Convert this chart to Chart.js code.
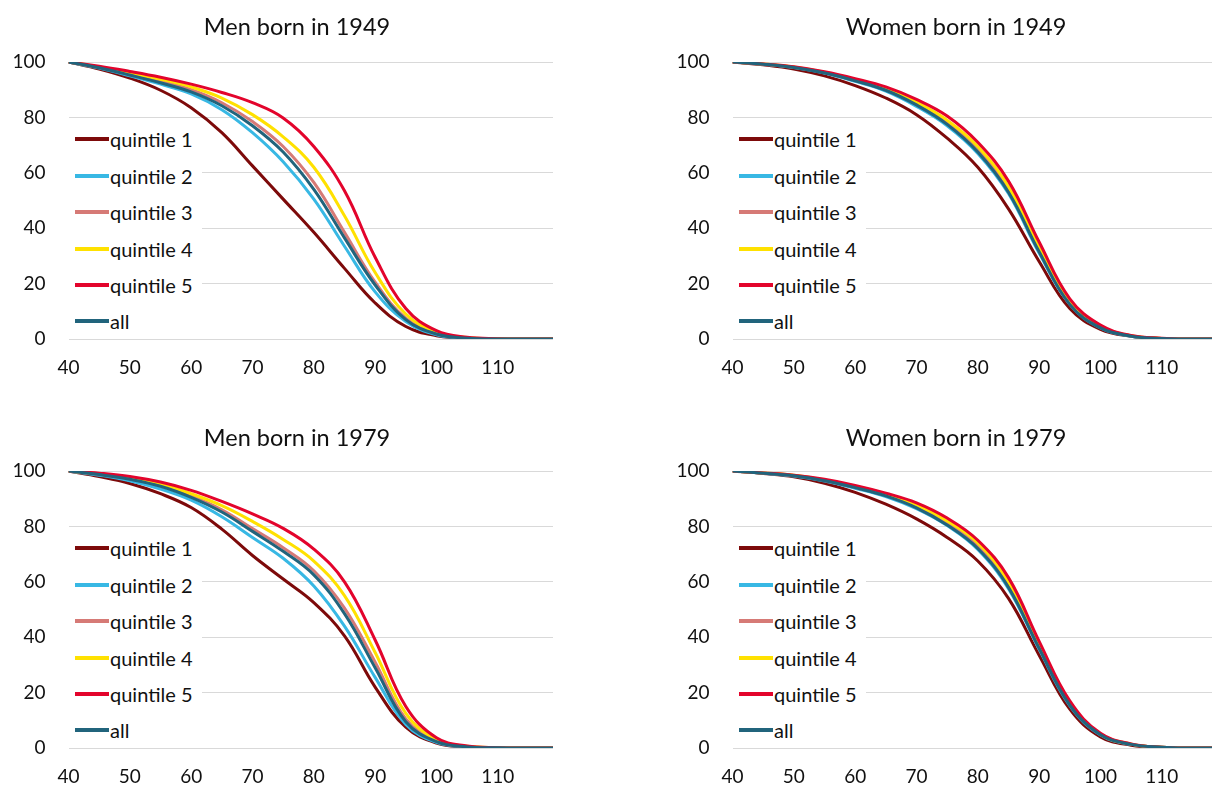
<!DOCTYPE html>
<html>
<head>
<meta charset="utf-8">
<title>Survival by income quintile</title>
<script src="https://cdn.jsdelivr.net/npm/chart.js@4.4.1/dist/chart.umd.min.js"></script>
<style>
    html, body {
        margin: 0;
        padding: 0;
        width: 1212px;
        height: 790px;
        overflow: hidden;
        background: #fff;
    }
    body {
        position: relative;
        font-family: Lato, 'Noto Sans', sans-serif;
        color: #111;
    }
    .panel {
        position: absolute;
        height: 400px;
    }
    .panel canvas {
        position: absolute;
        left: 0;
        top: 0;
    }
    .title {
        position: absolute;
        font-size: 23.5px;
        line-height: 24px;
        white-space: nowrap;
        transform: translateX(-50%);
    }
    .legend {
        position: absolute;
        width: 133px;
        height: 216px;
        background: #fff;
    }
    .legend .item {
        position: absolute;
        left: 6px;
        height: 24px;
        display: flex;
        align-items: center;
        font-size: 20px;
        white-space: nowrap;
    }
    .legend .swatch {
        width: 34px;
        height: 4px;
        margin-right: 1px;
    }
</style>
</head>
<body>

<script>
// ages (every 5 years, last point at 119)
const ages = [40, 45, 50, 55, 60, 65, 70, 75, 80, 85, 90, 95, 100, 105, 110, 115, 119];

const seriesNames = ['quintile 1', 'quintile 2', 'quintile 3', 'quintile 4', 'quintile 5', 'all'];
const seriesColors = ['#7d0a0a', '#38b8e4', '#d67a76', '#ffe100', '#e3042c', '#21647c'];

const yTicks = [0, 20, 40, 60, 80, 100];
const xTicks = [40, 50, 60, 70, 80, 90, 100, 110];

// Men born in 1949
const men1949Q1 = [100, 97.5, 94.2, 89.8, 83.5, 74.5, 62.5, 50.5, 38.5, 25.5, 13, 4.5, 1.2, 0.2, 0, 0, 0];
const men1949Q2 = [100, 97.8, 95, 92, 88.5, 82.8, 74.5, 64, 50.5, 33.5, 17, 6.3, 1.5, 0.3, 0, 0, 0];
const men1949Q3 = [100, 98, 95.6, 93, 90, 85.3, 78.5, 69.5, 56.5, 38.5, 20.5, 7.5, 2, 0.4, 0.1, 0, 0];
const men1949Q4 = [100, 98.2, 96, 93.8, 91, 87, 81, 73, 62, 44.5, 24, 9, 2.5, 0.5, 0.1, 0, 0];
const men1949Q5 = [100, 98.5, 96.6, 94.5, 92, 89, 85.3, 79.8, 69.5, 53.5, 29.5, 11, 3, 0.6, 0.1, 0, 0];
const men1949All = [100, 97.9, 95.3, 92.5, 89.2, 84.2, 77, 67.5, 54, 36.5, 19.5, 7, 1.8, 0.3, 0, 0, 0];

// Women born in 1949
const women1949Q1 = [100, 99, 97.5, 95, 91.5, 87, 81, 72.5, 62, 47, 28, 11, 3.5, 1, 0.2, 0, 0];
const women1949Q2 = [100, 99.2, 98, 96, 93, 89.5, 84, 77, 67, 52.5, 31, 12.5, 4, 1, 0.2, 0, 0];
const women1949Q3 = [100, 99.2, 98.1, 96.2, 93.5, 90.2, 85, 78.5, 68.5, 54, 32, 13, 4.3, 1.1, 0.2, 0, 0];
const women1949Q4 = [100, 99.3, 98.2, 96.3, 93.7, 90.5, 85.5, 79, 69.5, 55, 33, 13.5, 4.5, 1.2, 0.2, 0, 0];
const women1949Q5 = [100, 99.3, 98.3, 96.5, 94, 91, 86.5, 80.5, 71, 57, 35, 14.5, 5, 1.3, 0.3, 0, 0];
const women1949All = [100, 99.2, 98, 96, 93.2, 89.8, 84.5, 77.5, 67.5, 53, 31.5, 12.5, 4, 1, 0.2, 0, 0];

// Men born in 1979
const men1979Q1 = [100, 98, 95.5, 91.8, 86.8, 79, 69.5, 61, 52.5, 40.5, 22, 7.5, 1.8, 0.3, 0, 0, 0];
const men1979Q2 = [100, 98.5, 96.5, 93.5, 89.5, 83.5, 76, 68.5, 58.5, 44, 25.5, 8.5, 2, 0.4, 0, 0, 0];
const men1979Q3 = [100, 98.8, 97.2, 94.8, 91, 86, 79.2, 72.3, 64, 50.5, 31, 10.5, 2.5, 0.5, 0.1, 0, 0];
const men1979Q4 = [100, 99, 97.5, 95.3, 91.8, 87.5, 81.8, 75.3, 67.5, 55, 34.5, 12.5, 3, 0.6, 0.1, 0, 0];
const men1979Q5 = [100, 99.2, 98, 96, 93, 89, 84.5, 79.3, 71.8, 60, 39, 15, 3.7, 0.7, 0.1, 0, 0];
const men1979All = [100, 98.7, 97, 94.5, 90.5, 85.2, 78.2, 71, 62.5, 48.5, 29, 9.5, 2.3, 0.4, 0.1, 0, 0];

// Women born in 1979
const women1979Q1 = [100, 99.1, 97.9, 95.6, 92.3, 88, 82.7, 76, 67.5, 54, 33.5, 14, 4, 1, 0.2, 0, 0];
const women1979Q2 = [100, 99.2, 98.2, 96.4, 93.8, 90.8, 86.4, 80.3, 71.7, 57.5, 35.7, 15.3, 4.7, 1.3, 0.3, 0, 0];
const women1979Q3 = [100, 99.2, 98.4, 96.6, 94.2, 91.3, 87.2, 81.2, 73, 59, 37, 16, 5, 1.4, 0.3, 0, 0];
const women1979Q4 = [100, 99.3, 98.5, 96.8, 94.5, 91.7, 87.8, 82, 74, 60, 37.5, 16.3, 5, 1.4, 0.3, 0, 0];
const women1979Q5 = [100, 99.3, 98.5, 97, 94.8, 92, 88.5, 83, 75, 61.5, 38.5, 17, 5.3, 1.5, 0.3, 0, 0];
const women1979All = [100, 99.2, 98.3, 96.5, 94, 91, 86.7, 80.5, 72, 58, 36, 15.5, 4.8, 1.3, 0.3, 0, 0];

const panels = [
    { title: 'Men born in 1949', series: [men1949Q1, men1949Q2, men1949Q3, men1949Q4, men1949Q5, men1949All],
      left: 0, top: 0, width: 600, titleX: 297, titleY: 26 },
    { title: 'Women born in 1949', series: [women1949Q1, women1949Q2, women1949Q3, women1949Q4, women1949Q5, women1949All],
      left: 664, top: 0, width: 560, titleX: 956, titleY: 26 },
    { title: 'Men born in 1979', series: [men1979Q1, men1979Q2, men1979Q3, men1979Q4, men1979Q5, men1979All],
      left: 0, top: 409, width: 600, titleX: 297, titleY: 437 },
    { title: 'Women born in 1979', series: [women1979Q1, women1979Q2, women1979Q3, women1979Q4, women1979Q5, women1979All],
      left: 664, top: 409, width: 560, titleX: 956, titleY: 437 }
];

const PLOT_TOP = 62;
const PLOT_HEIGHT = 277;
const Y_AXIS_WIDTH = 68.5;
const PLOT_WIDTH = 484.5;

Chart.defaults.font.family = 'Lato, "Noto Sans", sans-serif';
Chart.defaults.color = '#111';

function addTitle(panel) {
    const div = document.createElement('div');
    div.className = 'title';
    div.textContent = panel.title;
    div.style.left = panel.titleX + 'px';
    div.style.top = (panel.titleY - 12) + 'px';
    document.body.appendChild(div);
}

function addLegend(wrap) {
    const legend = document.createElement('div');
    legend.className = 'legend';
    legend.style.left = (Y_AXIS_WIDTH + 0.5) + 'px';
    legend.style.top = (PLOT_TOP + 59) + 'px';
    seriesNames.forEach((name, i) => {
        const item = document.createElement('div');
        item.className = 'item';
        item.style.top = (18.3 + i * 36.4 - 12) + 'px';
        item.innerHTML = `<span class="swatch" style="background:${seriesColors[i]}"></span><span>${name}</span>`;
        legend.appendChild(item);
    });
    wrap.appendChild(legend);
}

function drawPanel(panel) {
    const wrap = document.createElement('div');
    wrap.className = 'panel';
    wrap.style.left = panel.left + 'px';
    wrap.style.top = panel.top + 'px';
    wrap.style.width = panel.width + 'px';
    const canvas = document.createElement('canvas');
    canvas.width = panel.width;
    canvas.height = 400;
    wrap.appendChild(canvas);
    document.body.appendChild(wrap);

    new Chart(canvas, {
        type: 'line',
        data: {
            datasets: panel.series.map((values, i) => ({
                label: seriesNames[i],
                data: values.map((v, k) => ({ x: ages[k], y: v })),
                borderColor: seriesColors[i],
                backgroundColor: seriesColors[i],
                borderWidth: 3,
                pointRadius: 0,
                fill: false,
                tension: 0.4,
                order: seriesNames.length - 1 - i
            }))
        },
        options: {
            responsive: false,
            animation: false,
            devicePixelRatio: 1,
            layout: {
                padding: { top: PLOT_TOP, left: 0, bottom: 0, right: panel.width - Y_AXIS_WIDTH - PLOT_WIDTH }
            },
            plugins: {
                legend: { display: false },
                title: { display: false },
                tooltip: { enabled: false }
            },
            scales: {
                x: {
                    type: 'linear',
                    min: ages[0],
                    max: ages[ages.length - 1],
                    grid: { display: false },
                    border: { display: false },
                    afterBuildTicks: scale => {
                        scale.ticks = xTicks.map(v => ({ value: v }));
                    },
                    afterFit: scale => { scale.height = 400 - PLOT_TOP - PLOT_HEIGHT; },
                    ticks: {
                        font: { size: 19 },
                        padding: 9,
                        maxRotation: 0,
                        autoSkip: false,
                        color: '#111'
                    }
                },
                y: {
                    min: 0,
                    max: 100,
                    afterBuildTicks: scale => {
                        scale.ticks = yTicks.map(v => ({ value: v }));
                    },
                    afterFit: scale => { scale.width = Y_AXIS_WIDTH; },
                    grid: { color: '#d9d9d9', lineWidth: 1, drawTicks: false },
                    border: { display: false },
                    ticks: {
                        font: { size: 19 },
                        padding: 23,
                        color: '#111'
                    }
                }
            }
        }
    });

    addLegend(wrap);
    addTitle(panel);
}

document.addEventListener('DOMContentLoaded', () => {
    panels.forEach(drawPanel);
});
</script>
</body>
</html>
